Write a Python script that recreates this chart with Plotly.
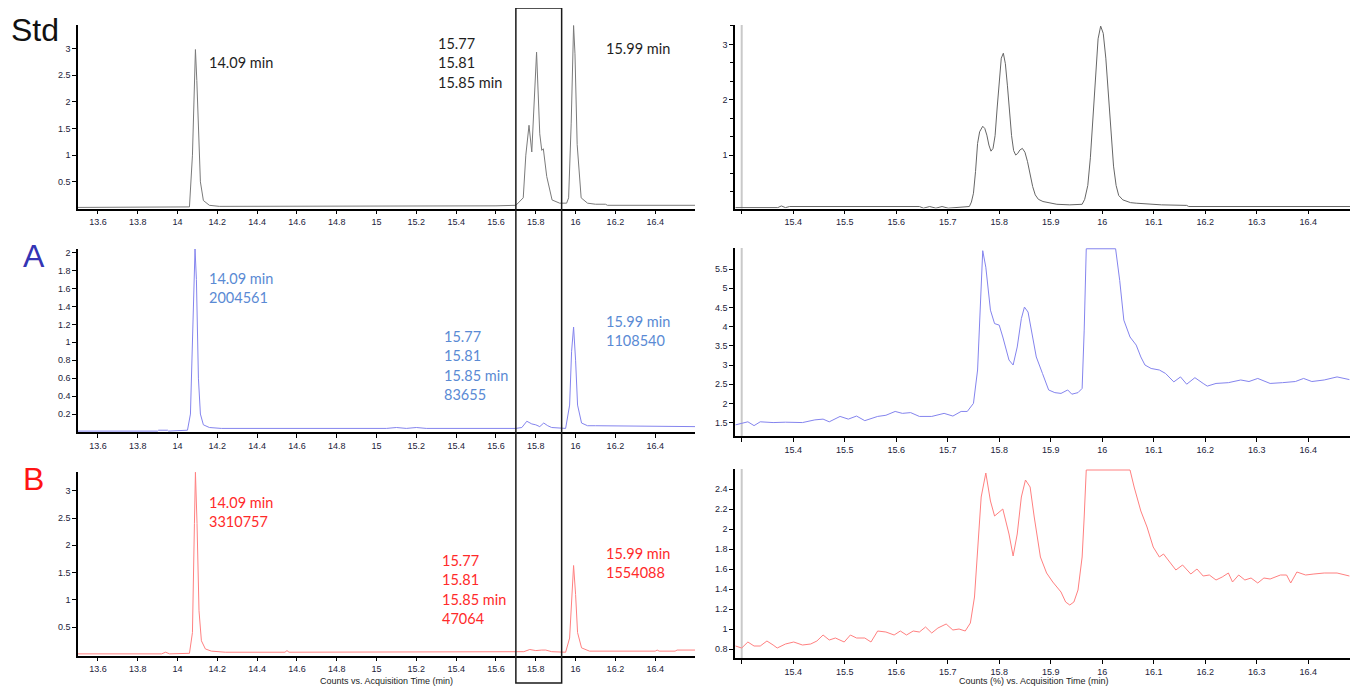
import plotly.graph_objects as go

# The page body has an 8 px default margin, so all reference pixel positions are
# shifted by that margin; the figure is sized to end exactly at the window edge.
PAGE_W, PAGE_H = 1358, 692
OFF = 8
W, H = PAGE_W - OFF, PAGE_H - OFF

# ---------------- data ----------------
# Left column: full chromatograms (counts) vs acquisition time (min)
std_left_t = [13.50, 14.00, 14.06, 14.075, 14.085, 14.09, 14.097, 14.105, 14.115, 14.13, 14.16, 14.21,
              15.38, 15.39, 15.60, 15.70, 15.737, 15.75, 15.766, 15.78, 15.79, 15.804, 15.82, 15.83,
              15.838, 15.855, 15.882, 15.92, 15.955, 15.965, 15.978, 15.985, 15.99, 15.997, 16.008,
              16.028, 16.06, 16.10, 16.15, 16.16, 16.60]
std_left_v = [0.02, 0.02, 0.03, 1.0, 2.6, 2.98, 2.4, 1.4, 0.5, 0.15, 0.06, 0.04,
              0.04, 0.05, 0.05, 0.06, 0.20, 1.00, 1.56, 1.06, 1.80, 2.93, 1.40, 1.09,
              1.12, 0.60, 0.16, 0.10, 0.10, 0.20, 1.60, 2.90, 3.43, 2.90, 1.20,
              0.20, 0.10, 0.08, 0.08, 0.06, 0.06]

a_left_t = [13.50, 13.90, 13.905, 13.95, 13.955, 14.05, 14.065, 14.078, 14.088, 14.095, 14.105, 14.115,
            14.13, 14.16, 14.22, 15.05, 15.10, 15.15, 15.20, 15.25, 15.30, 15.70, 15.73, 15.755,
            15.78, 15.80, 15.82, 15.84, 15.86, 15.88, 15.95, 15.97, 15.98, 15.99, 16.0, 16.01,
            16.03, 16.06, 16.10, 16.60]
a_left_v = [0.01, 0.01, 0.02, 0.02, 0.01, 0.02, 0.20, 1.40, 2.04, 1.70, 0.60, 0.20,
            0.08, 0.05, 0.04, 0.04, 0.05, 0.04, 0.05, 0.04, 0.04, 0.04, 0.05, 0.12,
            0.09, 0.08, 0.06, 0.10, 0.07, 0.05, 0.04, 0.30, 0.90, 1.17, 0.80, 0.30,
            0.10, 0.07, 0.07, 0.06]

b_left_t = [13.50, 13.92, 13.94, 13.96, 14.06, 14.075, 14.085, 14.09, 14.098, 14.108, 14.12, 14.14,
            14.17, 14.24, 14.54, 14.55, 14.56, 15.70, 15.74, 15.77, 15.80, 15.83, 15.85, 15.88,
            15.95, 15.97, 15.98, 15.99, 16.0, 16.01, 16.03, 16.07, 16.40, 16.41, 16.42, 16.50,
            16.51, 16.60]
b_left_v = [0.01, 0.01, 0.04, 0.01, 0.02, 0.40, 2.40, 3.34, 2.40, 0.80, 0.25, 0.10,
            0.06, 0.04, 0.04, 0.07, 0.04, 0.04, 0.05, 0.09, 0.07, 0.08, 0.08, 0.05,
            0.04, 0.30, 1.10, 1.63, 1.10, 0.40, 0.12, 0.06, 0.06, 0.08, 0.06, 0.06,
            0.08, 0.08]

# Right column: zoomed region, counts (%) vs acquisition time (min)
std_right_t = [15.288, 15.370, 15.377, 15.385, 15.393, 15.547, 15.645, 15.653, 15.665, 15.677, 15.689,
               15.701, 15.742, 15.746, 15.750, 15.754, 15.758, 15.762, 15.768, 15.772, 15.776, 15.780,
               15.784, 15.788, 15.792, 15.796, 15.800, 15.804, 15.808, 15.812, 15.816, 15.820, 15.824,
               15.828, 15.832, 15.836, 15.840, 15.845, 15.850, 15.855, 15.860, 15.865, 15.870, 15.876,
               15.885, 15.900, 15.912, 15.937, 15.961, 15.966, 15.972, 15.977, 15.982, 15.987, 15.992,
               15.997, 16.002, 16.007, 16.012, 16.017, 16.022, 16.027, 16.032, 16.040, 16.055, 16.066,
               16.115, 16.164, 16.168, 16.485]
std_right_v = [0.05, 0.05, 0.08, 0.05, 0.07, 0.07, 0.07, 0.04, 0.07, 0.04, 0.07,
               0.04, 0.07, 0.15, 0.31, 0.70, 1.21, 1.42, 1.52, 1.48, 1.36, 1.18,
               1.07, 1.12, 1.35, 1.85, 2.40, 2.75, 2.84, 2.65, 2.25, 1.75, 1.35,
               1.08, 1.00, 1.03, 1.09, 1.12, 1.05, 0.88, 0.65, 0.43, 0.28, 0.20,
               0.16, 0.13, 0.11, 0.10, 0.11, 0.20, 0.45, 0.95, 1.70, 2.55, 3.10,
               3.33, 3.20, 2.75, 2.05, 1.35, 0.80, 0.45, 0.27, 0.19, 0.14, 0.13,
               0.10, 0.09, 0.07, 0.07]

a_right_t = [15.288, 15.300, 15.312, 15.324, 15.336, 15.361, 15.385, 15.418, 15.442, 15.458, 15.470,
             15.491, 15.507, 15.523, 15.539, 15.564, 15.580, 15.598, 15.612, 15.628, 15.645, 15.669,
             15.693, 15.710, 15.726, 15.738, 15.750, 15.758, 15.765, 15.768, 15.774, 15.783, 15.791,
             15.800, 15.807, 15.819, 15.827, 15.835, 15.843, 15.849, 15.856, 15.864, 15.872, 15.884,
             15.896, 15.908, 15.920, 15.933, 15.941, 15.953, 15.961, 15.965, 15.969, 16.026, 16.034,
             16.042, 16.054, 16.066, 16.075, 16.083, 16.095, 16.111, 16.123, 16.139, 16.152, 16.164,
             16.180, 16.196, 16.204, 16.221, 16.245, 16.269, 16.285, 16.302, 16.326, 16.350, 16.375,
             16.391, 16.407, 16.431, 16.456, 16.480]
a_right_v = [1.44, 1.48, 1.52, 1.42, 1.52, 1.50, 1.51, 1.50, 1.57, 1.59, 1.52,
             1.66, 1.59, 1.67, 1.55, 1.66, 1.69, 1.79, 1.74, 1.76, 1.66, 1.66,
             1.74, 1.67, 1.79, 1.79, 2.00, 2.87, 4.95, 5.98, 5.55, 4.43, 4.08,
             4.04, 3.73, 3.13, 3.00, 3.47, 4.21, 4.51, 4.38, 3.82, 3.21, 2.78,
             2.35, 2.28, 2.26, 2.35, 2.24, 2.28, 2.39, 3.91, 6.03, 6.03, 5.20,
             4.17, 3.73, 3.52, 3.21, 3.00, 2.91, 2.87, 2.78, 2.56, 2.69, 2.50,
             2.67, 2.52, 2.45, 2.52, 2.54, 2.61, 2.57, 2.65, 2.52, 2.54, 2.57,
             2.65, 2.57, 2.61, 2.69, 2.62]

b_right_t = [15.288, 15.300, 15.312, 15.324, 15.336, 15.349, 15.361, 15.369, 15.385, 15.401, 15.418,
             15.434, 15.446, 15.458, 15.470, 15.482, 15.499, 15.511, 15.523, 15.539, 15.551, 15.564,
             15.580, 15.596, 15.608, 15.620, 15.633, 15.645, 15.657, 15.669, 15.681, 15.697, 15.710,
             15.722, 15.734, 15.744, 15.752, 15.758, 15.765, 15.774, 15.783, 15.791, 15.807, 15.819,
             15.827, 15.835, 15.843, 15.851, 15.860, 15.868, 15.880, 15.892, 15.904, 15.920, 15.929,
             15.937, 15.945, 15.953, 15.961, 15.965, 15.969, 16.054, 16.062, 16.075, 16.087, 16.099,
             16.111, 16.119, 16.127, 16.143, 16.156, 16.172, 16.184, 16.196, 16.208, 16.221, 16.233,
             16.245, 16.253, 16.265, 16.277, 16.289, 16.302, 16.314, 16.326, 16.346, 16.358, 16.366,
             16.378, 16.395, 16.411, 16.431, 16.456, 16.480]
b_right_v = [0.83, 0.81, 0.87, 0.83, 0.83, 0.88, 0.84, 0.81, 0.85, 0.87, 0.84,
             0.85, 0.88, 0.94, 0.89, 0.91, 0.87, 0.94, 0.91, 0.91, 0.87, 0.98,
             0.97, 0.94, 0.98, 0.94, 0.98, 0.97, 1.02, 0.96, 1.01, 1.05, 0.99,
             1.00, 0.98, 1.06, 1.32, 1.79, 2.32, 2.56, 2.28, 2.13, 2.20, 1.95,
             1.73, 1.95, 2.32, 2.49, 2.42, 2.12, 1.72, 1.56, 1.47, 1.37, 1.27,
             1.24, 1.27, 1.39, 1.72, 2.12, 2.59, 2.59, 2.42, 2.18, 2.02, 1.82,
             1.72, 1.75, 1.70, 1.59, 1.64, 1.55, 1.60, 1.53, 1.54, 1.49, 1.52,
             1.56, 1.47, 1.54, 1.49, 1.51, 1.46, 1.51, 1.50, 1.54, 1.54, 1.46,
             1.57, 1.54, 1.55, 1.56, 1.56, 1.53]

# tick values / labels
left_x_ticks = [13.6, 13.8, 14.0, 14.2, 14.4, 14.6, 14.8, 15.0, 15.2, 15.4, 15.6, 15.8, 16.0, 16.2, 16.4]
left_x_labels = ["13.6", "13.8", "14", "14.2", "14.4", "14.6", "14.8", "15", "15.2", "15.4", "15.6",
                 "15.8", "16", "16.2", "16.4"]
right_x_ticks = [15.3, 15.4, 15.5, 15.6, 15.7, 15.8, 15.9, 16.0, 16.1, 16.2, 16.3, 16.4]
right_x_labels = ["", "15.4", "15.5", "15.6", "15.7", "15.8", "15.9", "16", "16.1", "16.2", "16.3", "16.4"]

std_left_yticks = [0.5, 1, 1.5, 2, 2.5, 3]
std_left_ylabels = ["0.5", "1", "1.5", "2", "2.5", "3"]
a_left_yticks = [0.2, 0.4, 0.6, 0.8, 1.0, 1.2, 1.4, 1.6, 1.8, 2.0]
a_left_ylabels = ["0.2", "0.4", "0.6", "0.8", "1", "1.2", "1.4", "1.6", "1.8", "2"]
b_left_yticks = [0.5, 1, 1.5, 2, 2.5, 3]
b_left_ylabels = ["0.5", "1", "1.5", "2", "2.5", "3"]
std_right_yticks = [1, 2, 3]
std_right_ylabels = ["1", "2", "3"]
a_right_yticks = [1.5, 2, 2.5, 3, 3.5, 4, 4.5, 5, 5.5]
a_right_ylabels = ["1.5", "2", "2.5", "3", "3.5", "4", "4.5", "5", "5.5"]
b_right_yticks = [0.8, 1.0, 1.2, 1.4, 1.6, 1.8, 2.0, 2.2, 2.4]
b_right_ylabels = ["0.8", "1", "1.2", "1.4", "1.6", "1.8", "2", "2.2", "2.4"]

# peak annotations (text lines)
std_labels_1 = ["14.09 min"]
std_labels_2 = ["15.77", "15.81", "15.85 min"]
std_labels_3 = ["15.99 min"]
a_labels_1 = ["14.09 min", "2004561"]
a_labels_2 = ["15.77", "15.81", "15.85 min", "83655"]
a_labels_3 = ["15.99 min", "1108540"]
b_labels_1 = ["14.09 min", "3310757"]
b_labels_2 = ["15.77", "15.81", "15.85 min", "47064"]
b_labels_3 = ["15.99 min", "1554088"]

row_names = ["Std", "A", "B"]

# ---------------- styling ----------------
STD_LINE = "#7a7a7a"
A_LINE = "#8484ee"
B_LINE = "#ff8080"
STD_TXT = "#1e1e1e"
A_TXT = "#5a8ad4"
B_TXT = "#ff2a2a"
NAME_COL = ["#111111", "#3434b4", "#ff1414"]
NAME_X = [9, 21, 21]
NAME_Y = [30, 256, 479]
TICK_FONT = dict(family="Liberation Sans Narrow, Liberation Sans, Arial", size=9, color="#1c1c3a")
LBL_FONT = "Lato, Open Sans, sans-serif"


def px(x):
    return (x - OFF) / W


def py(y):
    return 1 - (y - OFF) / H


fig = go.Figure()

panels = [
    (std_left_t, std_left_v, STD_LINE, "x", "y"),
    (std_right_t, std_right_v, "#666666", "x2", "y2"),
    (a_left_t, a_left_v, A_LINE, "x3", "y3"),
    (a_right_t, a_right_v, A_LINE, "x4", "y4"),
    (b_left_t, b_left_v, B_LINE, "x5", "y5"),
    (b_right_t, b_right_v, B_LINE, "x6", "y6"),
]
for t, v, col, xa, ya in panels:
    fig.add_trace(go.Scatter(x=t, y=v, mode="lines", line=dict(color=col, width=1),
                             xaxis=xa, yaxis=ya, showlegend=False, hoverinfo="skip"))

axis_common = dict(showline=True, linecolor="black", linewidth=1.5, ticks="outside", ticklen=4,
                   tickwidth=1, tickcolor="black", showgrid=False, zeroline=False,
                   tickfont=TICK_FONT, fixedrange=True)

LX = [px(78), px(695)]
RX = [px(735), px(1352)]
LRANGE = [13.5, 16.6]
RRANGE = [15.287, 16.485]

# (xdomain, ydomain(px top,bottom), xrange, yrange, xt, xl, yt, yl)
specs = [
    (LX, (25, 208.5), LRANGE, [0, 3.44], left_x_ticks, left_x_labels, std_left_yticks, std_left_ylabels),
    (RX, (25, 208.5), RRANGE, [0.034, 3.35], right_x_ticks, right_x_labels, std_right_yticks, std_right_ylabels),
    (LX, (249, 432), LRANGE, [0, 2.04], left_x_ticks, left_x_labels, a_left_yticks, a_left_ylabels),
    (RX, (248, 436), RRANGE, [1.15, 6.05], right_x_ticks, right_x_labels, a_right_yticks, a_right_ylabels),
    (LX, (471.7, 655.5), LRANGE, [-0.02, 3.35], left_x_ticks, left_x_labels, b_left_yticks, b_left_ylabels),
    (RX, (469, 658), RRANGE, [0.71, 2.6], right_x_ticks, right_x_labels, b_right_yticks, b_right_ylabels),
]

layout_axes = {}
for i, (xd, (yt_px, yb_px), xr, yr, xt, xl, ytv, ytl) in enumerate(specs, start=1):
    sfx = "" if i == 1 else str(i)
    xa = dict(axis_common, domain=xd, range=xr, tickvals=xt, ticktext=xl, anchor="y" + sfx)
    ya = dict(axis_common, domain=[py(yb_px), py(yt_px)], range=yr, tickvals=ytv, ticktext=ytl,
              anchor="x" + sfx)
    if i == 2:
        ya["minor"] = dict(dtick=1 / 3, tick0=0, ticks="outside", ticklen=3, tickcolor="black")
    layout_axes["xaxis" + sfx] = xa
    layout_axes["yaxis" + sfx] = ya

fig.update_layout(**layout_axes)

shapes = []
# grey marker line at 15.3 in the right panels
for sfx in ["2", "4", "6"]:
    shapes.append(dict(type="line", xref="x" + sfx, yref="y" + sfx + " domain", x0=15.3, x1=15.3,
                       y0=0, y1=1, line=dict(color="#c9c9c9", width=2), layer="below"))
# highlight box spanning the left column
shapes.append(dict(type="rect", xref="x", yref="paper", x0=15.70, x1=15.93, y0=py(683), y1=py(8),
                   line=dict(color="#1a1a1a", width=1.5), fillcolor="rgba(0,0,0,0)"))

annotations = []


def add_lines(lines, x_px, y_px, color, step=19.6):
    for k, s in enumerate(lines):
        annotations.append(dict(text=s, x=px(x_px), y=py(y_px + k * step), xref="paper", yref="paper",
                                xanchor="left", yanchor="middle", showarrow=False,
                                font=dict(family=LBL_FONT, size=14.5, color=color)))


add_lines(std_labels_1, 207, 62.5, STD_TXT)
add_lines(std_labels_2, 436, 43, STD_TXT)
add_lines(std_labels_3, 604, 48, STD_TXT)
add_lines(a_labels_1, 207, 278, A_TXT)
add_lines(a_labels_2, 442, 336, A_TXT)
add_lines(a_labels_3, 604, 321, A_TXT)
add_lines(b_labels_1, 207, 502, B_TXT)
add_lines(b_labels_2, 440, 560, B_TXT)
add_lines(b_labels_3, 604, 553, B_TXT)

for name, col, xpos, ypos in zip(row_names, NAME_COL, NAME_X, NAME_Y):
    annotations.append(dict(text=name, x=px(xpos), y=py(ypos), xref="paper", yref="paper",
                            xanchor="left", yanchor="middle", showarrow=False,
                            font=dict(family="Liberation Sans, Arial", size=32, color=col)))

annotations.append(dict(text="Counts vs. Acquisition Time (min)", x=px(386), y=py(681), xref="paper",
                        yref="paper", xanchor="center", yanchor="middle", showarrow=False,
                        font=dict(family="Liberation Sans, Arial", size=9, color="#222222")))
annotations.append(dict(text="Counts (%) vs. Acquisition Time (min)", x=px(1034), y=py(681), xref="paper",
                        yref="paper", xanchor="center", yanchor="middle", showarrow=False,
                        font=dict(family="Liberation Sans, Arial", size=9, color="#222222")))

fig.update_layout(width=W, height=H, margin=dict(l=0, r=0, t=0, b=0),
                  paper_bgcolor="white", plot_bgcolor="white",
                  shapes=shapes, annotations=annotations, showlegend=False)

fig.write_html("out.html", config={"displayModeBar": False})
